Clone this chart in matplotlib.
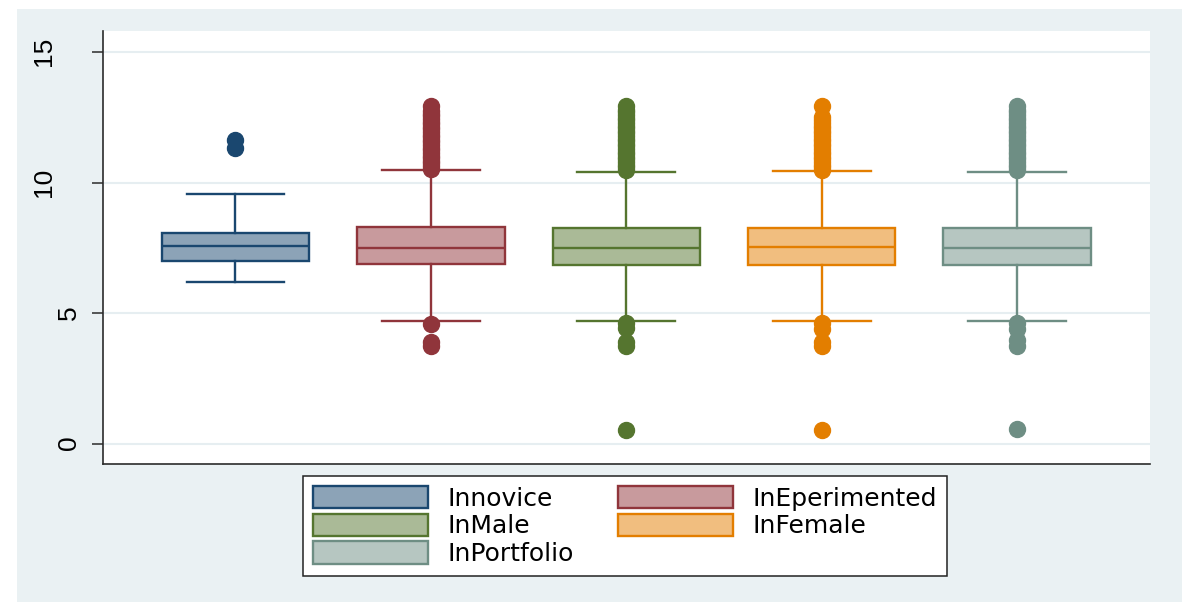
import matplotlib
matplotlib.use("Agg")
import matplotlib.pyplot as plt
from matplotlib.patches import Rectangle, Patch

# données (log des montants)
groupes = ["Innovice", "InEperimented", "InMale", "InFemale", "InPortfolio"]
medianes = [7.59, 7.51, 7.52, 7.53, 7.51]
q1 = [7.02, 6.88, 6.87, 6.86, 6.85]
q3 = [8.10, 8.30, 8.29, 8.29, 8.28]
moustache_bas = [6.20, 4.73, 4.73, 4.73, 4.72]
moustache_haut = [9.58, 10.49, 10.42, 10.45, 10.43]

# valeurs extrêmes
ext_novice = [11.32, 11.63]
ext_exp = [10.55, 10.65, 10.75, 10.85, 10.95, 11.05, 11.15, 11.25, 11.35, 11.45,
           11.55, 11.65, 11.75, 11.85, 11.95, 12.05, 12.15, 12.25, 12.35, 12.45,
           12.55, 12.65, 12.75, 12.94, 4.60, 3.90, 3.75]
ext_male = [10.50, 10.60, 10.70, 10.80, 10.90, 11.00, 11.10, 11.20, 11.30, 11.40,
            11.50, 11.60, 11.70, 11.80, 11.90, 12.00, 12.10, 12.20, 12.30, 12.40,
            12.50, 12.60, 12.70, 12.80, 12.94, 4.65, 4.45, 3.90, 3.75, 0.55]
ext_female = [10.50, 10.60, 10.70, 10.80, 10.90, 11.00, 11.10, 11.20, 11.30, 11.40,
              11.50, 11.60, 11.70, 11.80, 11.90, 12.00, 12.10, 12.20, 12.30, 12.40,
              12.53, 12.95, 4.65, 4.40, 3.90, 3.75, 0.55]
ext_portfolio = [10.50, 10.60, 10.70, 10.80, 10.90, 11.00, 11.10, 11.20, 11.30, 11.40,
                 11.50, 11.60, 11.70, 11.80, 11.90, 12.00, 12.10, 12.20, 12.30, 12.40,
                 12.50, 12.60, 12.70, 12.80, 12.94, 4.65, 4.40, 4.00, 3.75, 0.56]
extremes = [ext_novice, ext_exp, ext_male, ext_female, ext_portfolio]

yticks = [0, 5, 10, 15]

# couleurs façon Stata s2color
couleurs = ["#1a476f", "#90353b", "#55752f", "#e37e00", "#6e8e84"]
remplissage = ["#8ca3b7", "#c89a9d", "#aaba97", "#f1be7f", "#b6c6c1"]


fig = plt.figure(figsize=(11.96, 6.06), dpi=100)
fig.patch.set_facecolor("white")
fig.patches.append(Rectangle((17/1196, 1-602/606), (1182-17)/1196, (602-9)/606,
                             transform=fig.transFigure, facecolor="#eaf1f3",
                             edgecolor="none", zorder=-5))

ax = fig.add_axes([103/1196, 1-464/606, (1150-103)/1196, (464-31)/606])
ax.set_facecolor("white")

stats = []
for i in range(len(groupes)):
    stats.append({"med": medianes[i], "q1": q1[i], "q3": q3[i],
                  "whislo": moustache_bas[i], "whishi": moustache_haut[i],
                  "fliers": extremes[i], "label": groupes[i]})

pos = list(range(1, len(groupes) + 1))
res = ax.bxp(stats, positions=pos, widths=0.755, capwidths=0.5,
             patch_artist=True, showfliers=True)

for i, c in enumerate(couleurs):
    res["boxes"][i].set_facecolor(remplissage[i])
    res["boxes"][i].set_edgecolor(c)
    res["boxes"][i].set_linewidth(1.7)
    res["medians"][i].set_color(c)
    res["medians"][i].set_linewidth(1.7)
    for w in res["whiskers"][2*i:2*i+2]:
        w.set_color(c)
        w.set_linewidth(1.7)
    for cp in res["caps"][2*i:2*i+2]:
        cp.set_color(c)
        cp.set_linewidth(1.7)
    f = res["fliers"][i]
    f.set_marker("o")
    f.set_markersize(11.5)
    f.set_markerfacecolor(c)
    f.set_markeredgecolor(c)

ax.set_xlim(0.322, 5.68)
ax.set_ylim(-0.766, 15.82)
ax.set_xticks([])
ax.set_yticks(yticks)
ax.set_yticklabels([])
ax.tick_params(axis="y", direction="out", length=8, width=1.1, color="#2b2b2b")

# étiquettes de l'axe y, décalées comme sur l'original
# (les nombres à deux chiffres sont plus loin de l'axe)
for v in yticks:
    xl = -0.0564 if v >= 10 else -0.0329
    ax.text(xl, v + 0.04, str(v), transform=ax.get_yaxis_transform(),
            rotation=90, ha="center", va="center", fontsize=19,
            family="Liberation Sans", color="black")

ax.set_axisbelow(True)
ax.yaxis.grid(True, color="#e6eef1", linewidth=1.5)
ax.spines["top"].set_visible(False)
ax.spines["right"].set_visible(False)
for s in ["left", "bottom"]:
    ax.spines[s].set_color("#2b2b2b")
    ax.spines[s].set_linewidth(1.2)

# légende en deux colonnes, remplie ligne par ligne
ordre = [0, 2, 4, 1, 3]
poignees = [Patch(facecolor=remplissage[i], edgecolor=couleurs[i], linewidth=1.7,
                  label=groupes[i]) for i in ordre]
leg = fig.legend(handles=poignees, ncol=2, loc="center",
                 bbox_to_anchor=(625/1196, 1-526/606), bbox_transform=fig.transFigure,
                 prop={"family": "DejaVu Sans", "size": 18},
                 handlelength=4.6, handleheight=1.0, handletextpad=0.75,
                 columnspacing=1.8, labelspacing=0.12, borderpad=0.4,
                 fancybox=False, framealpha=1, edgecolor="#222222")
leg.get_frame().set_linewidth(1.1)

fig.savefig("out.png", dpi=100)
